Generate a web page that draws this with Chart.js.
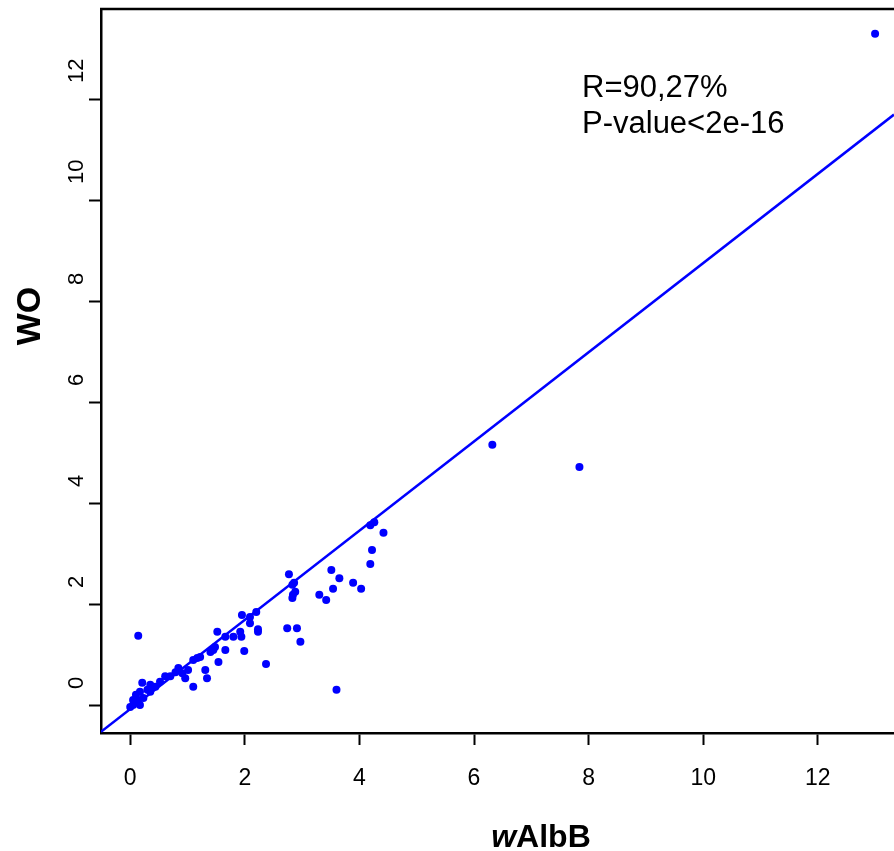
<!DOCTYPE html>
<html lang="en">

<head>
  <meta charset="UTF-8">
  <title>WO vs wAlbB</title>
  <style>
    body {
      margin: 0;
      background: #fff;
    }

    #wrap {
      width: 894px;
      height: 851px;
    }
  </style>
  <script src="https://cdn.jsdelivr.net/npm/chart.js@4.4.4/dist/chart.umd.js"></script>
</head>

<body>
  <div id="wrap"><canvas id="chart_1"></canvas></div>
</body>
<script>
  // values
  const walbb = [0.00, 0.05, 0.17, 0.05, 0.14, 0.23, 0.10, 0.17, 0.30, 0.35,
    0.44, 0.21, 0.52, 0.35, 0.14, 0.79, 0.91, 1.01, 0.96, 0.70,
    1.10, 1.17, 1.10, 1.22, 1.31, 1.34, 1.45, 1.54, 1.66, 1.48,
    1.40, 1.52, 1.66, 1.80, 1.92, 1.94, 1.95, 2.09, 2.20, 2.09,
    2.23, 2.23, 1.99, 2.37, 2.74, 2.91, 2.97, 3.60, 2.83, 2.84,
    2.77, 2.86, 2.83, 2.88, 3.30, 3.42, 3.51, 3.54, 3.65, 3.89,
    4.03, 4.19, 4.22, 4.19, 4.26, 4.42, 6.32, 7.84, 13.00, 0.84, 0.61];
  const wo = [-0.02, 0.02, 0.02, 0.12, 0.12, 0.16, 0.22, 0.28, 0.32, 0.28,
    0.38, 0.46, 0.48, 0.42, 1.39, 0.67, 0.65, 0.71, 0.55, 0.59,
    0.38, 0.95, 0.91, 0.97, 0.71, 0.55, 1.11, 0.87, 1.11, 1.17,
    1.07, 1.47, 1.37, 1.37, 1.47, 1.37, 1.80, 1.76, 1.86, 1.64,
    1.47, 1.52, 1.09, 0.83, 1.54, 1.54, 1.27, 0.32, 2.14, 2.20,
    2.61, 2.44, 2.40, 2.26, 2.20, 2.10, 2.69, 2.32, 2.53, 2.44,
    2.32, 2.81, 3.09, 3.58, 3.64, 3.43, 5.17, 4.73, 13.31, 0.75, 0.59];

  // fitted line, two end points
  const fitX = [-0.51, 13.33];
  const fitY = [-0.51, 11.71];

  const xTicks = [0, 2, 4, 6, 8, 10, 12];
  const yTicks = [0, 2, 4, 6, 8, 10, 12];
  const statLines = ['R=90,27%', 'P-value<2e-16'];

  const FONT = '"Liberation Sans", Arial, sans-serif';
  const BLUE = '#0000ff';

  Chart.defaults.font.family = FONT;
  Chart.defaults.color = '#000';

  const extras = {
    id: 'extras',
    afterDraw(chart) {
      const { ctx, chartArea } = chart;
      ctx.save();
      // top frame line
      ctx.strokeStyle = '#000';
      ctx.lineWidth = 2.5;
      ctx.beginPath();
      ctx.moveTo(chartArea.left - 1, chartArea.top);
      ctx.lineTo(chartArea.right, chartArea.top);
      ctx.stroke();

      ctx.fillStyle = '#000';
      ctx.font = '31px ' + FONT;
      ctx.textAlign = 'left';
      ctx.textBaseline = 'alphabetic';
      statLines.forEach((t, i) => ctx.fillText(t, 582, 97 + i * 36));

      // x title: italic w + AlbB
      ctx.font = 'italic bold 32px ' + FONT;
      const w1 = ctx.measureText('w').width;
      ctx.font = 'bold 32px ' + FONT;
      const w2 = ctx.measureText('AlbB').width;
      let x0 = 541 - (w1 + w2) / 2;
      ctx.font = 'italic bold 32px ' + FONT;
      ctx.fillText('w', x0, 847);
      ctx.font = 'bold 32px ' + FONT;
      ctx.fillText('AlbB', x0 + w1, 847);

      // y title
      ctx.translate(31, 316);
      ctx.rotate(-Math.PI / 2);
      ctx.font = 'bold 34px ' + FONT;
      ctx.textAlign = 'center';
      ctx.textBaseline = 'middle';
      ctx.fillText('WO', 0, 0);
      ctx.restore();
    }
  };

  new Chart('chart_1', {
    type: 'scatter',
    data: {
      datasets: [{
        data: walbb.map((x, i) => ({ x: x, y: wo[i] })),
        pointRadius: 4,
        pointBackgroundColor: BLUE,
        pointBorderWidth: 0
      }, {
        type: 'line',
        data: fitX.map((x, i) => ({ x: x, y: fitY[i] })),
        borderColor: BLUE,
        borderWidth: 2.5,
        pointRadius: 0,
        showLine: true
      }]
    },
    options: {
      responsive: true,
      maintainAspectRatio: false,
      animation: false,
      layout: { autoPadding: false, padding: { left: 66, top: 9, right: 0, bottom: 0 } },
      plugins: {
        legend: { display: false },
        tooltip: { enabled: false }
      },
      scales: {
        x: {
          type: 'linear',
          position: 'bottom',
          min: -0.51,
          max: 13.33,
          afterBuildTicks: s => { s.ticks = xTicks.map(v => ({ value: v })); },
          afterFit: s => { s.height = 118; s.paddingLeft = 0; s.paddingRight = 0; },
          grid: { drawOnChartArea: false, tickLength: 12, tickWidth: 2, tickColor: '#000', color: '#000' },
          border: { display: true, color: '#000', width: 2.5 },
          ticks: { font: { size: 23 }, padding: 20, autoSkip: false, maxRotation: 0, callback: v => String(v) }
        },
        y: {
          type: 'linear',
          position: 'left',
          min: -0.535,
          max: 13.8,
          afterBuildTicks: s => { s.ticks = yTicks.map(v => ({ value: v })); },
          afterFit: s => { s.width = 35; s.paddingTop = 0; s.paddingBottom = 0; },
          grid: { drawOnChartArea: false, tickLength: 12, tickWidth: 2, tickColor: '#000', color: '#000' },
          border: { display: true, color: '#000', width: 2.5 },
          ticks: {
            font: { size: 22 }, minRotation: 90, maxRotation: 90, crossAlign: 'far', align: 'start',
            labelOffset: -17, autoSkip: false, callback: v => String(v)
          }
        }
      }
    },
    plugins: [extras]
  });
</script>

</html>
